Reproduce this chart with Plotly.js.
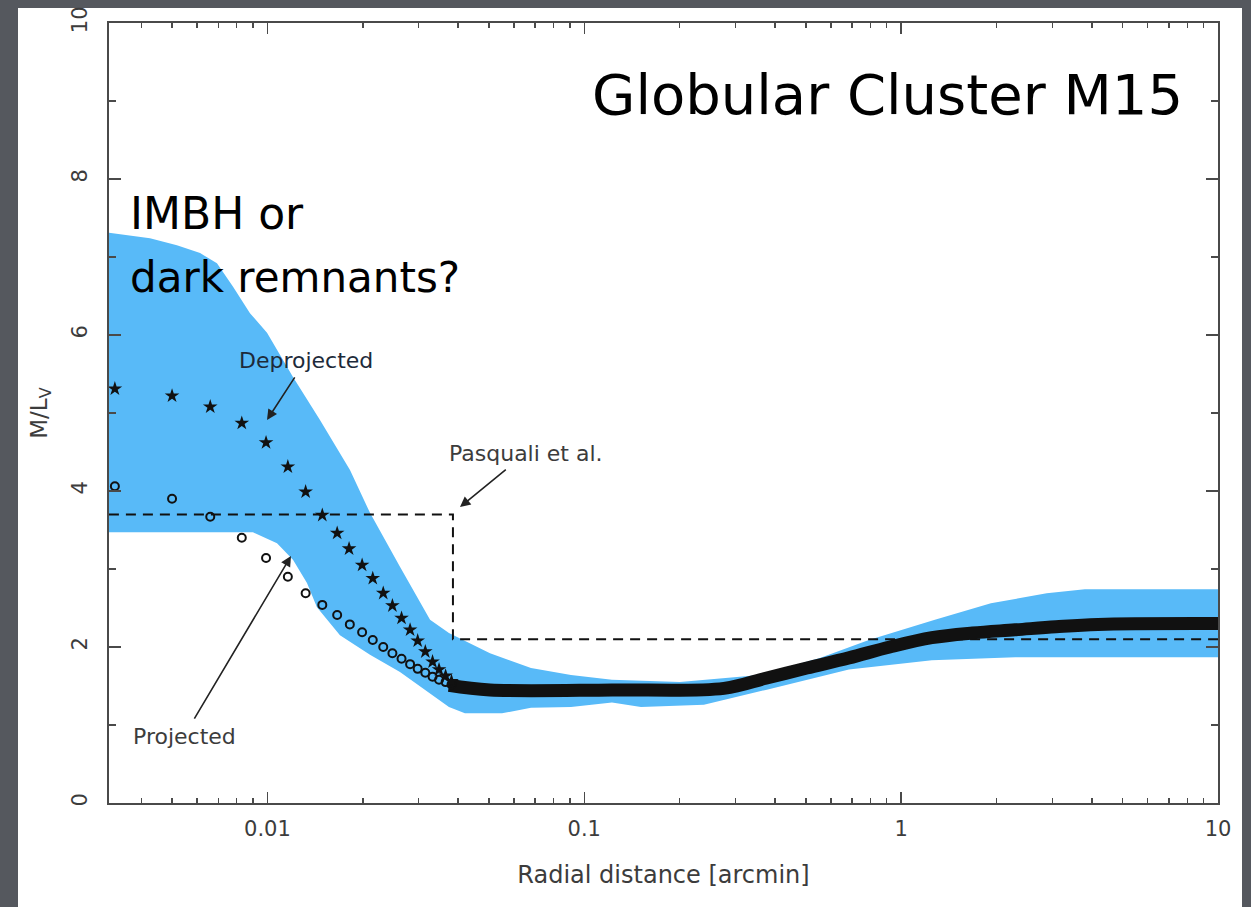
<!DOCTYPE html>
<html>
<head>
<meta charset="utf-8">
<script src="https://cdn.plot.ly/plotly-3.0.1.min.js"></script>
<style>
html,body{margin:0;padding:0;background:#55585e;}
#chart{width:1251px;height:907px;}
</style>
</head>
<body>
<div id="chart"></div>
<script>
// ---- data ----
// upper and lower edges of the blue uncertainty band
const bandUpperX = [0.00316,0.00426,0.00518,0.00613,0.00693,0.00779,0.00881,0.00997,0.01204,0.01465,0.01822,0.02107,0.0262,0.0326,0.0374,0.0504,0.0679,0.0908,0.1223,0.2003,0.358,0.554,0.791,1.278,1.92,2.88,3.80,10];
const bandUpperY = [7.31,7.24,7.15,7.05,6.92,6.62,6.28,6.03,5.46,4.91,4.27,3.72,3.03,2.35,2.18,1.92,1.73,1.64,1.58,1.55,1.64,1.86,2.09,2.35,2.56,2.69,2.74,2.74];
const bandLowerX = [0.00316,0.0090,0.01072,0.01204,0.01333,0.01433,0.01694,0.02107,0.0262,0.0324,0.0374,0.0420,0.0550,0.0679,0.0908,0.1223,0.151,0.2385,0.374,0.684,1.25,2.29,10];
const bandLowerY = [3.47,3.47,3.33,3.12,2.82,2.51,2.15,1.90,1.68,1.41,1.23,1.15,1.15,1.22,1.23,1.29,1.23,1.26,1.45,1.71,1.83,1.87,1.87];

// deprojected M/L (stars), inner resolved points
const deprojX = [0.0033,0.0050,0.0066,0.0083,0.0099,0.0116,0.0132,0.0149,0.0166,0.0181,0.0199,0.0215,0.0232,0.0248,0.0265,0.0282,0.0298,0.0315,0.0332,0.0348,0.0365,0.0381];
const deprojY = [5.31,5.22,5.08,4.87,4.62,4.31,3.99,3.69,3.46,3.26,3.05,2.88,2.69,2.53,2.37,2.22,2.08,1.94,1.81,1.71,1.63,1.56];

// projected M/L (open circles), inner resolved points
const projX = [0.0033,0.0050,0.0066,0.0083,0.0099,0.0116,0.0132,0.0149,0.0166,0.0182,0.0199,0.0215,0.0232,0.0248,0.0265,0.0282,0.0298,0.0315,0.0332,0.0348,0.0365,0.0381];
const projY = [4.06,3.90,3.67,3.40,3.14,2.90,2.69,2.54,2.41,2.29,2.19,2.09,2.00,1.92,1.85,1.78,1.72,1.67,1.62,1.58,1.55,1.52];

// outer region where the points merge into a dense thick band
const denseX = [0.0374,0.0504,0.1223,0.276,0.374,0.504,0.684,0.921,1.25,1.68,2.29,3.08,4.18,10];
const denseY = [1.51,1.45,1.45,1.47,1.60,1.73,1.86,2.00,2.12,2.18,2.22,2.26,2.29,2.30];

// Pasquali et al. step profile
const pasqX = [0.00316,0.0385,0.0385,10];
const pasqY = [3.7,3.7,2.1,2.1];

// axis ticks
const xTickVals = [0.01,0.1,1,10];
const xTickText = ['0.01','0.1','1','10'];
const yTickVals = [0,2,4,6,8,10];
const yTickText = ['0','2','4','6','8','10'];

// ---- layout helpers (pixel -> paper) ----
const L=109,R=1218,T=23,B=803;
const px = v => (v-L)/(R-L);
const py = v => (B-v)/(B-T);

const bandX = bandUpperX.concat(bandLowerX.slice().reverse());
const bandY = bandUpperY.concat(bandLowerY.slice().reverse());

const ink='#111111', axisCol='#4a4a4a', txtCol='#3c3c3c';
const smallFont = 'DejaVu Sans, Verdana, sans-serif';

const traces = [
  {x:bandX, y:bandY, type:'scatter', mode:'lines', fill:'toself', fillcolor:'rgb(88,186,248)', line:{width:0}, hoverinfo:'skip'},
  {x:pasqX, y:pasqY, type:'scatter', mode:'lines', line:{color:ink, width:2, dash:'10px,7px'}},
  {x:denseX, y:denseY, type:'scatter', mode:'lines', line:{color:ink, width:13, shape:'spline'}},
  {x:projX, y:projY, type:'scatter', mode:'markers', marker:{symbol:'circle-open', size:8, color:ink, line:{width:2, color:ink}}},
  {x:deprojX, y:deprojY, type:'scatter', mode:'markers', marker:{symbol:'star', size:11, color:ink, line:{width:0}}}
];

// label with an arrow: text centred at (cx,cy) pixels, arrow tip at (tx,ty) pixels
const arrowLabel = (text, cx, cy, tx, ty, col) => ({
  xref:'paper', yref:'paper', x:px(tx), y:py(ty), ax:cx-tx, ay:cy-ty,
  text:text, showarrow:true, arrowhead:2, arrowsize:1.3, arrowwidth:1.6, arrowcolor:'#222',
  startstandoff:4,
  font:{family:smallFont, size:22, color:col}
});

const layout = {
  width:1251, height:907,
  margin:{l:L, r:1251-R, t:T, b:907-B},
  paper_bgcolor:'#55585e',
  plot_bgcolor:'rgba(0,0,0,0)',
  showlegend:false,
  font:{family:smallFont, color:txtCol},
  shapes:[
    {type:'rect', xref:'paper', yref:'paper', layer:'below',
     x0:px(18), x1:px(1242), y0:py(907), y1:py(8), fillcolor:'#ffffff', line:{width:0}}
  ],
  xaxis:{
    type:'log', range:[-2.5,1], tickmode:'array', tickvals:xTickVals, ticktext:xTickText,
    ticks:'inside', ticklen:11, tickwidth:1.5, tickcolor:axisCol,
    minor:{dtick:'D1', ticks:'inside', ticklen:5, tickwidth:1.5, tickcolor:axisCol, showgrid:false},
    showline:true, linecolor:axisCol, linewidth:2, mirror:'ticks',
    showgrid:false, zeroline:false,
    tickfont:{family:smallFont, size:21, color:txtCol}, ticklabelstandoff:6,
    title:{text:'Radial distance [arcmin]', font:{family:smallFont, size:24, color:txtCol}, standoff:26}
  },
  yaxis:{
    range:[0,10], tickmode:'array', tickvals:yTickVals, ticktext:yTickText, tickangle:-90,
    ticks:'inside', ticklen:12, tickwidth:1.5, tickcolor:axisCol,
    minor:{dtick:1, ticks:'inside', ticklen:7, tickwidth:1.5, tickcolor:axisCol, showgrid:false},
    showline:true, linecolor:axisCol, linewidth:2, mirror:'ticks',
    showgrid:false, zeroline:false,
    tickfont:{family:smallFont, size:21, color:txtCol}, ticklabelstandoff:12,
    title:{text:'M/L<sub>V</sub>', font:{family:smallFont, size:23, color:txtCol}, standoff:14}
  },
  annotations:[
    {xref:'paper', yref:'paper', x:px(1185), y:py(94), xanchor:'right', yanchor:'middle', showarrow:false,
     text:'Globular Cluster M15', font:{family:'DejaVu Sans', size:56, color:'#000'}},
    {xref:'paper', yref:'paper', x:px(128), y:py(213), xanchor:'left', yanchor:'middle', showarrow:false,
     text:'IMBH or', font:{family:'DejaVu Sans', size:44, color:'#000'}},
    {xref:'paper', yref:'paper', x:px(128), y:py(277), xanchor:'left', yanchor:'middle', showarrow:false,
     text:'dark remnants?', font:{family:'DejaVu Sans', size:42, color:'#000'}},
    arrowLabel('Deprojected', 306, 360, 267, 420, '#1d2a3a'),
    arrowLabel('Projected', 184, 736, 291, 556, txtCol),
    arrowLabel('Pasquali et al.', 526, 453, 460, 507, txtCol)
  ]
};

Plotly.newPlot('chart', traces, layout, {displayModeBar:false, staticPlot:true});
</script>
</body>
</html>
